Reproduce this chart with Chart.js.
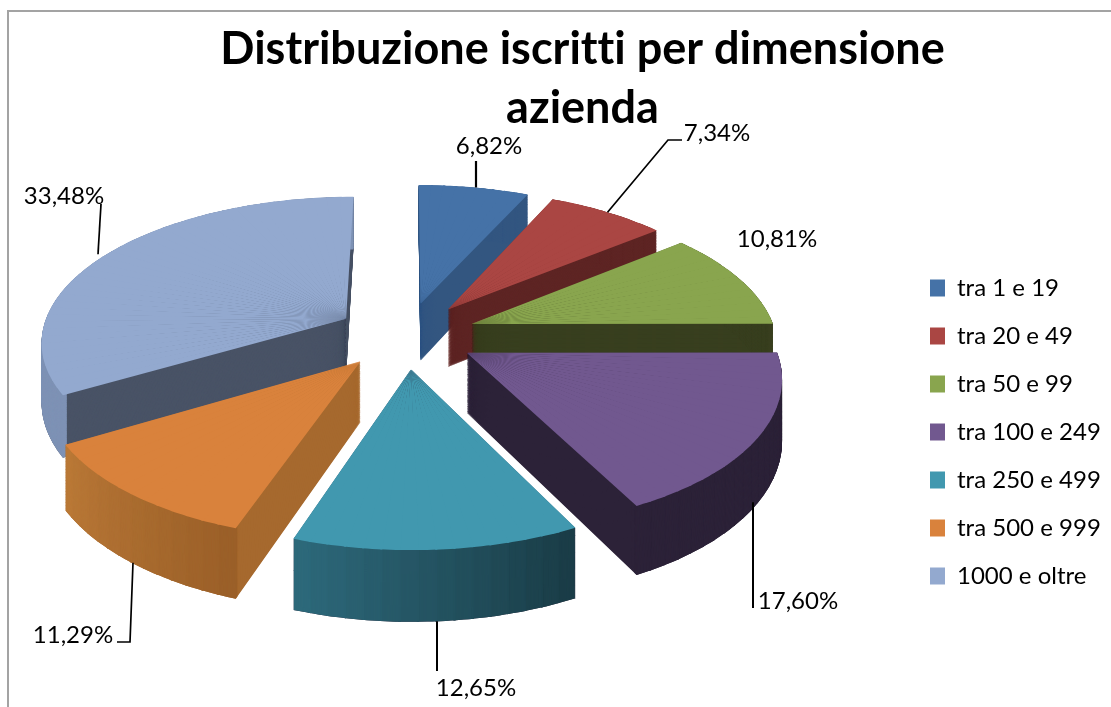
<!DOCTYPE html>
<html><head><meta charset="utf-8">
<style>
html,body{margin:0;padding:0;background:#fff;overflow:hidden}
#frame{position:absolute;left:7px;top:10px;width:1200px;height:800px;border:2px solid #a3a3a3}
#c{position:absolute;left:0;top:0}
</style>
<script src="https://cdn.jsdelivr.net/npm/chart.js@4"></script>
</head><body>
<div id="frame"></div>
<canvas id="c" width="1111" height="707"></canvas>
<script>
const categories = ['tra 1 e 19','tra 20 e 49','tra 50 e 99','tra 100 e 249','tra 250 e 499','tra 500 e 999','1000 e oltre'];
const shares = [6.82,7.34,10.81,17.60,12.65,11.29,33.48];
const topColors = ['#4572a7','#aa4643','#89a54e','#71588f','#4198af','#d9823c','#93a9cf'];
const sideColors = ['#335680','#5e2524','#383f1f','#2c2238','#2c2238','#a6692e','#495366'];
const rimStart = ['#335680','#5e2524','#383f1f','#2c2238','#1a3c46','#9a5f28','#7e92b5'];
const rimEnd = ['#335680','#5e2524','#383f1f','#2c2238','#2e6a7c','#bb7a38','#7e92b5'];
const title = ['Distribuzione iscritti per dimensione','azienda'];

// camera of the exploded 3-D pie
const cam = {cx:406, cy:335, a:305, b:144, k:0.144, depth:59, explode:0.23};
const drawOrder = [0,1,2,6,5,3,4];
const labelFont = '24px Lato';
// label anchor and leader route
const labelStyle = [
 {x:489,y:146,route:[[476,161]],z:0,fixX:476,lw:2.2},
 {x:717,y:133,route:[[668,140],[682,140]],z:0,lw:1.7},
 {x:777,y:239,route:null,z:0},
 {x:798,y:601,route:[[753,608]],z:1,fixX:753,lw:2},
 {x:476,y:688,route:[[437,671]],z:1,fixX:437,lw:2},
 {x:73,y:635,route:[[130,642],[117,642]],z:1,fixX:133,lw:1.7},
 {x:64,y:196,route:[[101,204]],z:0,fixX:98,lw:1.7}
];

function project(X,Y,z){
  const s = 1/(1-cam.k*Y);
  return [cam.cx+cam.a*X*s, cam.cy+(cam.b*Y+cam.depth*z)*s];
}
function hex(c){return [1,3,5].map(i=>parseInt(c.substr(i,2),16));}
function mix(c1,c2,t){const a=hex(c1),b=hex(c2);
  return 'rgb('+a.map((v,i)=>Math.round(v+(b[i]-v)*t)).join(',')+')';}
function optsFor(color){return {backgroundColor:color,borderColor:'transparent',borderWidth:0,borderAlign:'center',
  borderJoinStyle:'round',borderRadius:0,offset:0,spacing:0,circular:true,borderDash:[],borderDashOffset:0};}

// draw one thin piece of a library arc through the projection
function drawPiece(ctx,arc,a1,a2,a2draw,ex,ey,z,color,inner){
  const R=arc.outerRadius, u1=[Math.cos(a1),Math.sin(a1)], u2=[Math.cos(a2),Math.sin(a2)];
  const p0=project(ex,ey,z), p1=project(ex+u1[0],ey+u1[1],z), p2=project(ex+u2[0],ey+u2[1],z);
  const d1=[p1[0]-p0[0],p1[1]-p0[1]], d2=[p2[0]-p0[0],p2[1]-p0[1]];
  const det=R*R*(u1[0]*u2[1]-u2[0]*u1[1]);
  const i11=R*u2[1]/det,i12=-R*u2[0]/det,i21=-R*u1[1]/det,i22=R*u1[0]/det;
  const m11=d1[0]*i11+d2[0]*i21,m12=d1[0]*i12+d2[0]*i22,m21=d1[1]*i11+d2[1]*i21,m22=d1[1]*i12+d2[1]*i22;
  const tx=p0[0]-(m11*arc.x+m12*arc.y),ty=p0[1]-(m21*arc.x+m22*arc.y);
  ctx.save();
  ctx.transform(m11,m21,m12,m22,tx,ty);
  arc.startAngle=a1;arc.endAngle=a2draw;arc.circumference=a2draw-a1;
  arc.innerRadius=inner*R;arc.options=optsFor(color);
  arc.draw(ctx);
  ctx.restore();
}

const pie3d = {
  id:'pie3d',
  afterLayout(chart){
    const lg=chart.legend;
    lg.left=930-24; lg.top=252;
  },
  beforeDraw(chart){ chart.ctx.letterSpacing='0.01px'; },
  beforeDatasetsDraw(chart){
    const ctx=chart.ctx, arcs=chart.getDatasetMeta(0).data, step=3*Math.PI/180;
    drawOrder.forEach(i=>{
      const arc=arcs[i], s0=arc.startAngle, e0=arc.endAngle, c0=arc.circumference, ir=arc.innerRadius, op=arc.options;
      const mid=(s0+e0)/2, ex=cam.explode*Math.cos(mid), ey=cam.explode*Math.sin(mid);
      const n=Math.max(1,Math.ceil((e0-s0)/step)), da=(e0-s0)/n, ov=0.006;
      const each=fn=>{for(let j=0;j<n;j++){const a=s0+j*da;fn(a,a+da,j===n-1?a+da:a+da+ov,(j+.5)/n);}};
      for(let z=1;z>0;z-=0.014){ each((a,b,bd)=>drawPiece(ctx,arc,a,b,bd,ex,ey,z,sideColors[i],0)); }
      for(let z=1;z>0;z-=0.014){ each((a,b,bd,t)=>drawPiece(ctx,arc,a,b,bd,ex,ey,z,mix(rimStart[i],rimEnd[i],t),0.985)); }
      each((a,b,bd)=>drawPiece(ctx,arc,a,b,bd,ex,ey,0,topColors[i],0));
      arc.startAngle=s0;arc.endAngle=e0;arc.circumference=c0;arc.innerRadius=ir;arc.options=op;
    });
    return false;
  },
  afterDraw(chart){
    const ctx=chart.ctx, arcs=chart.getDatasetMeta(0).data;
    ctx.save();
    ctx.font=labelFont;ctx.fillStyle='#000';ctx.textAlign='center';ctx.textBaseline='middle';
    ctx.strokeStyle='#000';
    arcs.forEach((arc,i)=>{
      const L=labelStyle[i], mid=(arc.startAngle+arc.endAngle)/2;
      const ex=cam.explode*Math.cos(mid), ey=cam.explode*Math.sin(mid);
      if(L.route){
        const p=project(ex+Math.cos(mid),ey+Math.sin(mid),L.z);
        ctx.lineWidth=L.lw;
        ctx.beginPath();
        ctx.moveTo(L.fixX||p[0],p[1]);
        L.route.forEach(q=>ctx.lineTo(q[0],q[1]));
        ctx.stroke();
      }
      ctx.fillText(shares[i].toFixed(2).replace('.',',')+'%',L.x,L.y);
    });
    ctx.restore();
  }
};

new Chart(document.getElementById('c'),{
  type:'pie',
  plugins:[pie3d],
  data:{labels:categories,datasets:[{data:shares,backgroundColor:topColors,borderWidth:0}]},
  options:{
    responsive:false,animation:false,rotation:0,
    layout:{padding:{left:54,top:0,right:0,bottom:0}},
    plugins:{
      tooltip:{enabled:false},
      title:{display:true,text:title,color:'#000',padding:{top:20,bottom:0},
        font:{family:'Lato',size:45,weight:'bold',lineHeight:1.31}},
      legend:{display:true,position:'right',align:'start',
        labels:{font:{family:'Lato',size:24},color:'#000',boxWidth:15,boxHeight:17,padding:24}}
    }
  }
});
</script>
</body></html>
